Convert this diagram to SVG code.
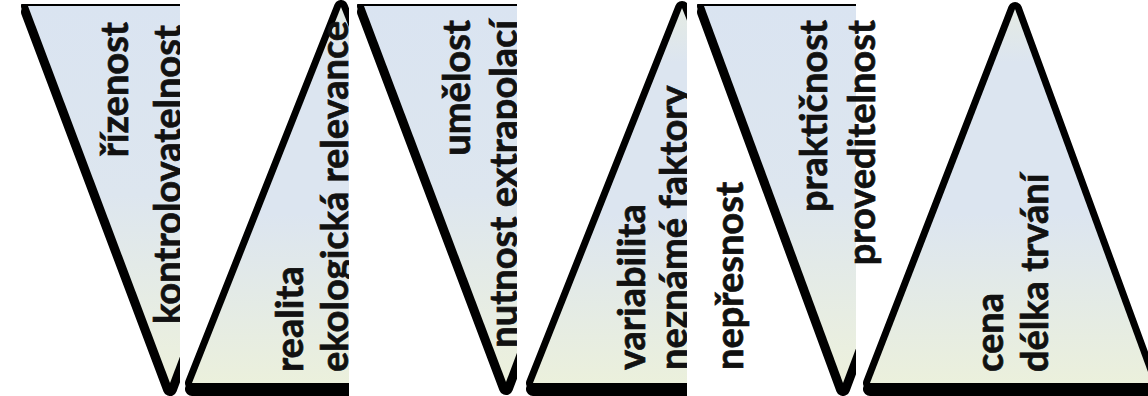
<svg xmlns="http://www.w3.org/2000/svg" width="1148" height="396" viewBox="0 0 1148 396">
<style>
.t{font-family:Lato,"Open Sans","Liberation Sans",sans-serif;font-weight:700;font-size:38px;fill:#111;stroke:#111;stroke-width:0.7}
.e{text-anchor:end}
.o{fill:none;stroke:#000;stroke-width:14;stroke-linejoin:round}
.sh{fill:#000;stroke:#000;stroke-width:14;stroke-linejoin:round}
</style>
<defs>
<linearGradient id="gd" gradientUnits="userSpaceOnUse" x1="0" y1="6" x2="0" y2="383">
<stop offset="0" stop-color="#dae4f1"/><stop offset="0.5" stop-color="#dde6ef"/><stop offset="1" stop-color="#edf1dc"/>
</linearGradient>
<linearGradient id="gu" gradientUnits="userSpaceOnUse" x1="0" y1="6" x2="0" y2="383">
<stop offset="0" stop-color="#e5ebe3"/><stop offset="0.15" stop-color="#dce5f0"/><stop offset="0.55" stop-color="#dce5f0"/><stop offset="1" stop-color="#ebf0dc"/>
</linearGradient>
<clipPath id="c1"><rect x="0" y="4" width="180" height="392"/></clipPath>
<clipPath id="c2"><rect x="181" y="0" width="168" height="396"/></clipPath>
<clipPath id="c3"><rect x="349" y="4" width="168" height="392"/></clipPath>
<clipPath id="c4"><rect x="517" y="0" width="170" height="396"/></clipPath>
<clipPath id="c5"><rect x="687" y="4" width="169" height="392"/></clipPath>
<clipPath id="c6"><rect x="856" y="0" width="292" height="396"/></clipPath>
</defs>
<rect width="1148" height="396" fill="#fff"/>
<g id="n1" clip-path="url(#c1)">
<polygon class="sh" points="28,6 312,6 170,383" transform="translate(0,6)"/>
<polygon class="o" points="28,6 312,6 170,383"/>
<polygon points="28,6 312,6 170,383" fill="url(#gd)"/>
<text class="t e" transform="translate(128,22) rotate(-90)">řízenost</text>
<text class="t e" transform="translate(181,25) rotate(-90)">kontrolovatelnost</text>
</g>
<g id="n2" clip-path="url(#c2)">
<polygon class="sh" points="341,7 192,383 490,383" transform="translate(0,6)"/>
<polygon class="o" points="341,7 192,383 490,383"/>
<polygon points="341,7 192,383 490,383" fill="url(#gu)"/>
<text class="t" transform="translate(303,372) rotate(-90)">realita</text>
<text class="t" transform="translate(348,372) rotate(-90)">ekologická relevance</text>
</g>
<g id="n3" clip-path="url(#c3)">
<polygon class="sh" points="364,6 648,6 506,382" transform="translate(0,6)"/>
<polygon class="o" points="364,6 648,6 506,382"/>
<polygon points="364,6 648,6 506,382" fill="url(#gd)"/>
<text class="t e" transform="translate(470,20) rotate(-90)">umělost</text>
<text class="t e" transform="translate(517,20) rotate(-90)">nutnost extrapolací</text>
</g>
<g id="n4" clip-path="url(#c4)">
<polygon class="sh" points="682,8 533,383 831,383" transform="translate(0,6)"/>
<polygon class="o" points="682,8 533,383 831,383"/>
<polygon points="682,8 533,383 831,383" fill="url(#gu)"/>
<text class="t" transform="translate(645,370) rotate(-90)">variabilita</text>
<text class="t" transform="translate(687,370) rotate(-90)">neznámé faktory</text>
</g>
<g id="n4b">
<text class="t" transform="translate(743,370) rotate(-90)">nepřesnost</text>
</g>
<g id="n5">
<g clip-path="url(#c5)">
<polygon class="sh" points="704,6 984,6 843,383" transform="translate(0,6)"/>
<polygon class="o" points="704,6 984,6 843,383"/>
<polygon points="704,6 984,6 843,383" fill="url(#gd)"/>
</g>
<text class="t e" transform="translate(827,20) rotate(-90)">praktičnost</text>
<text class="t e" transform="translate(875,20) rotate(-90)">proveditelnost</text>
</g>
<g id="n6" clip-path="url(#c6)">
<polygon class="sh" points="1015,9 870,383 1152,383" transform="translate(0,6)"/>
<polygon class="o" points="1015,9 870,383 1152,383"/>
<polygon points="1015,9 870,383 1152,383" fill="url(#gu)"/>
<text class="t" transform="translate(1003,372) rotate(-90)">cena</text>
<text class="t" transform="translate(1048,372) rotate(-90)">délka trvání</text>
</g>
<g id="connectors"/>
</svg>
